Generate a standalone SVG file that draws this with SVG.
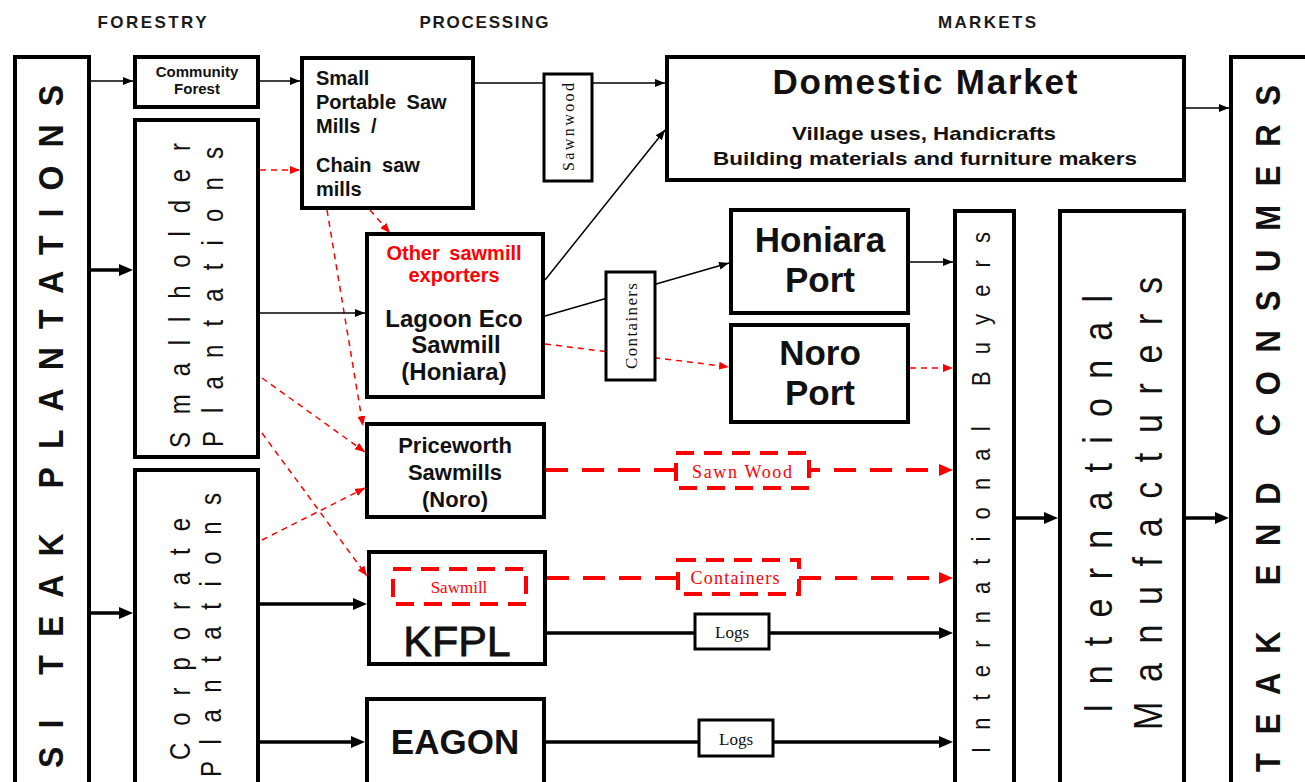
<svg xmlns="http://www.w3.org/2000/svg" width="1305" height="782" viewBox="0 0 1305 782">
<style>
.box{fill:#fff;stroke:#000;stroke-width:4}
.lbl{fill:#fff;stroke:#000;stroke-width:3}
.rlbl{fill:#fff;stroke:#f00;stroke-width:4;stroke-dasharray:18 10}
.thin{fill:none;stroke:#000;stroke-width:1.5}
.thick{fill:none;stroke:#000;stroke-width:3.5}
.rthin{fill:none;stroke:#f00;stroke-width:1.5;stroke-dasharray:6 5}
.rthick{fill:none;stroke:#f00;stroke-width:4;stroke-dasharray:22 14}
.sans{font-family:"Liberation Sans",Arial,sans-serif;fill:#111}
.b{font-weight:bold}
.serif{font-family:"Liberation Serif","Times New Roman",serif}
.hdr{font-family:"Liberation Sans",Arial,sans-serif;font-weight:bold;font-size:17px;fill:#1a1a1a;text-anchor:middle}
.mid{text-anchor:middle}
.red{fill:#f00}
</style>
<defs>
<marker id="aThin" markerUnits="userSpaceOnUse" markerWidth="10" markerHeight="8" refX="10" refY="4" orient="auto"><path d="M0,0 L10,4 L0,8 z" fill="#000"/></marker>
<marker id="aThick" markerUnits="userSpaceOnUse" markerWidth="14" markerHeight="12" refX="3" refY="6" orient="auto"><path d="M0,0 L14,6 L0,12 z" fill="#000"/></marker>
<marker id="aRed" markerUnits="userSpaceOnUse" markerWidth="10" markerHeight="8" refX="10" refY="4" orient="auto"><path d="M0,0 L10,4 L0,8 z" fill="#f00"/></marker>
<marker id="aRedThick" markerUnits="userSpaceOnUse" markerWidth="14" markerHeight="12" refX="3" refY="6" orient="auto"><path d="M0,0 L14,6 L0,12 z" fill="#f00"/></marker>
</defs>
<rect width="1305" height="782" fill="#fff"/>

<g id="headers">
<text class="hdr" x="152" y="28" textLength="109">FORESTRY</text>
<text class="hdr" x="484" y="28" textLength="129">PROCESSING</text>
<text class="hdr" x="987" y="28" textLength="98">MARKETS</text>
</g>

<g id="connectors">
<path class="thin" d="M90,81 H133" marker-end="url(#aThin)"/>
<path class="thin" d="M260,81 H300" marker-end="url(#aThin)"/>
<path class="thick" d="M91,270 H122" marker-end="url(#aThick)"/>
<path class="thick" d="M91,613 H122" marker-end="url(#aThick)"/>
<path class="rthin" d="M260,170 H300" marker-end="url(#aRed)"/>
<path class="thin" d="M474,83 H665" marker-end="url(#aThin)"/>
<path class="rthin" d="M370,210 L390,233" marker-end="url(#aRed)"/>
<path class="rthin" d="M327,210 L363,426" marker-end="url(#aRed)"/>
<path class="thin" d="M260,313 H365" marker-end="url(#aThin)"/>
<path class="rthin" d="M262,378 L365,452" marker-end="url(#aRed)"/>
<path class="rthin" d="M262,433 L367,576" marker-end="url(#aRed)"/>
<path class="rthin" d="M262,540 L365,488" marker-end="url(#aRed)"/>
<path class="thick" d="M260,604 H356" marker-end="url(#aThick)"/>
<path class="thick" d="M260,742 H354" marker-end="url(#aThick)"/>
<path class="thin" d="M545,280 L665,130" marker-end="url(#aThin)"/>
<path class="thin" d="M545,316 L729,263" marker-end="url(#aThin)"/>
<path class="rthin" d="M545,344 L729,367" marker-end="url(#aRed)"/>
<path class="thin" d="M910,262 H953" marker-end="url(#aThin)"/>
<path class="rthin" d="M910,368 H953" marker-end="url(#aRed)"/>
<path class="rthick" d="M546,470 H942" marker-end="url(#aRedThick)"/>
<path class="rthick" d="M547,578 H942" marker-end="url(#aRedThick)"/>
<path class="thick" d="M547,633 H942" marker-end="url(#aThick)"/>
<path class="thick" d="M545,742 H942" marker-end="url(#aThick)"/>
<path class="thick" d="M1016,518 H1047" marker-end="url(#aThick)"/>
<path class="thick" d="M1186,518 H1218" marker-end="url(#aThick)"/>
<path class="thin" d="M1186,108 H1229" marker-end="url(#aThin)"/>
</g>

<g id="edge-labels">
<g id="lbl-sawnwood"><rect class="lbl" x="544" y="74" width="48" height="107"/>
<text class="serif" font-size="16" fill="#111" text-anchor="middle" textLength="88" transform="translate(574,127) rotate(-90)">Sawnwood</text></g>
<g id="lbl-containers1"><rect class="lbl" x="606" y="272" width="49" height="108"/>
<text class="serif" font-size="17" fill="#111" text-anchor="middle" textLength="86" transform="translate(637,326) rotate(-90)">Containers</text></g>
<g id="lbl-sawnwood2"><rect class="rlbl" x="676" y="453" width="133" height="35"/>
<text class="serif red mid" font-size="18" x="742" y="478" textLength="100">Sawn Wood</text></g>
<g id="lbl-containers2"><rect class="rlbl" x="678" y="560" width="121" height="34"/>
<text class="serif red mid" font-size="18" x="735" y="584" textLength="89">Containers</text></g>
<g id="lbl-logs1"><rect class="lbl" x="695" y="614" width="74" height="35"/>
<text class="serif mid" font-size="17" fill="#111" x="732" y="638">Logs</text></g>
<g id="lbl-logs2"><rect class="lbl" x="699" y="720" width="74" height="36"/>
<text class="serif mid" font-size="17" fill="#111" x="736" y="745">Logs</text></g>
</g>

<g id="si-teak-plantations"><rect class="box" x="15" y="57" width="74" height="740"/>
<text class="sans b" font-size="32" textLength="683" transform="translate(63,768) rotate(-90) scale(1,1.12)">SI TEAK PLANTATIONS</text></g>

<g id="community-forest"><rect class="box" x="135" y="57" width="123" height="50"/>
<text class="sans b mid" font-size="15" x="197" y="77">Community</text>
<text class="sans b mid" font-size="15" x="197" y="94">Forest</text></g>

<g id="smallholder"><rect class="box" x="135" y="120" width="123" height="337"/>
<text class="sans" font-size="24" textLength="305" transform="translate(190,448) rotate(-90) scale(1,1.2)">Smallholder</text>
<text class="sans" font-size="24" textLength="300" transform="translate(223,447) rotate(-90) scale(1,1.2)">Plantations</text></g>

<g id="corporate"><rect class="box" x="135" y="470" width="123" height="330"/>
<text class="sans" font-size="24" textLength="242" transform="translate(190,760) rotate(-90) scale(1,1.2)">Corporate</text>
<text class="sans" font-size="24" textLength="284" transform="translate(221,777) rotate(-90) scale(1,1.2)">Plantations</text></g>

<g id="small-portable"><rect class="box" x="302" y="58" width="171" height="150"/>
<text class="sans b" font-size="20" word-spacing="5" x="316" y="85">Small</text>
<text class="sans b" font-size="20" word-spacing="5" x="316" y="109">Portable Saw</text>
<text class="sans b" font-size="20" word-spacing="5" x="316" y="133">Mills /</text>
<text class="sans b" font-size="20" word-spacing="5" x="316" y="172">Chain saw</text>
<text class="sans b" font-size="20" word-spacing="5" x="316" y="196">mills</text></g>

<g id="domestic-market"><rect class="box" x="667" y="57" width="517" height="123"/>
<text class="sans b mid" font-size="35" x="925" y="94" textLength="305">Domestic Market</text>
<text class="sans b mid" font-size="19" x="924" y="140" textLength="264" lengthAdjust="spacingAndGlyphs">Village uses, Handicrafts</text>
<text class="sans b mid" font-size="19" x="925" y="165" textLength="424" lengthAdjust="spacingAndGlyphs">Building materials and furniture makers</text></g>

<g id="lagoon"><rect class="box" x="367" y="234" width="176" height="163"/>
<text class="sans b mid red" font-size="20" word-spacing="4" x="454" y="260">Other sawmill</text>
<text class="sans b mid red" font-size="20" x="454" y="282">exporters</text>
<text class="sans b mid" font-size="24" x="454" y="327">Lagoon Eco</text>
<text class="sans b mid" font-size="24" x="456" y="353">Sawmill</text>
<text class="sans b mid" font-size="24" x="454" y="380">(Honiara)</text></g>

<g id="honiara-port"><rect class="box" x="731" y="210" width="177" height="103"/>
<text class="sans b mid" font-size="35" x="820" y="252">Honiara</text>
<text class="sans b mid" font-size="35" x="820" y="292">Port</text></g>

<g id="noro-port"><rect class="box" x="731" y="325" width="177" height="97"/>
<text class="sans b mid" font-size="35" x="820" y="365">Noro</text>
<text class="sans b mid" font-size="35" x="820" y="405">Port</text></g>

<g id="priceworth"><rect class="box" x="367" y="424" width="177" height="93"/>
<text class="sans b mid" font-size="22" x="455" y="453">Priceworth</text>
<text class="sans b mid" font-size="22" x="455" y="480">Sawmills</text>
<text class="sans b mid" font-size="22" x="455" y="507">(Noro)</text></g>

<g id="kfpl"><rect class="box" x="369" y="552" width="176" height="112"/>
<rect class="rlbl" x="393" y="569" width="133" height="35"/>
<text class="serif red mid" font-size="17" x="459" y="593">Sawmill</text>
<text class="sans mid" font-size="43" stroke="#111" stroke-width="0.8" x="457" y="656">KFPL</text></g>

<g id="eagon"><rect class="box" x="367" y="699" width="177" height="100"/>
<text class="sans b mid" font-size="35" x="455" y="754">EAGON</text></g>

<g id="international-buyers"><rect class="box" x="955" y="211" width="59" height="590"/>
<text class="sans" font-size="22" textLength="521" transform="translate(990,753) rotate(-90) scale(1,1.15)">International Buyers</text></g>

<g id="international-manufacturers"><rect class="box" x="1060" y="211" width="124" height="590"/>
<text class="sans" font-size="34" textLength="418" transform="translate(1112,713) rotate(-90) scale(1,1.2)">International</text>
<text class="sans" font-size="34" textLength="453" transform="translate(1162,730) rotate(-90) scale(1,1.2)">Manufacturers</text></g>

<g id="teak-end-consumers"><rect class="box" x="1231" y="57" width="90" height="740"/>
<text class="sans b" font-size="31" textLength="687" transform="translate(1280,772) rotate(-90) scale(1,1.15)">TEAK END CONSUMERS</text></g>
</svg>
